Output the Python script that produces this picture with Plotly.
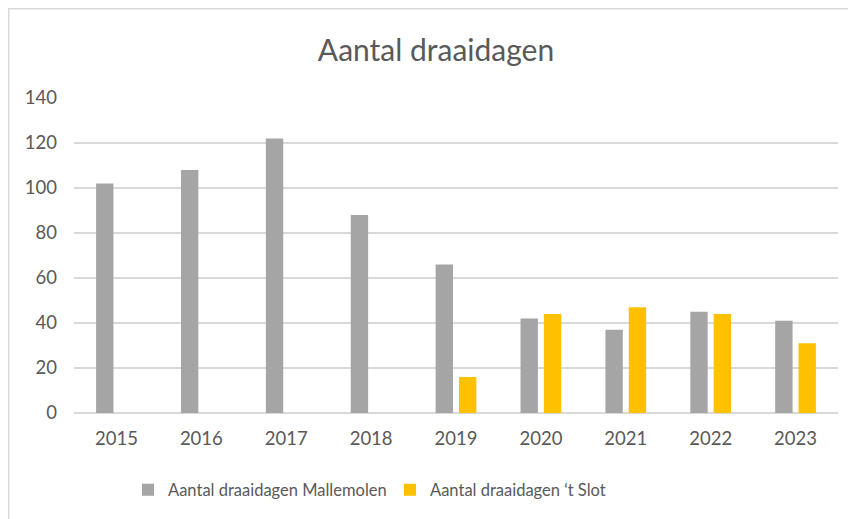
import plotly.graph_objects as go

years = ["2015", "2016", "2017", "2018", "2019", "2020", "2021", "2022", "2023"]
mallemolen = [102, 108, 122, 88, 66, 42, 37, 45, 41]
slot = [None, None, None, None, 16, 44, 47, 44, 31]
name_m = "Aantal draaidagen Mallemolen"
name_s = "Aantal draaidagen \u2018t Slot"
title = "Aantal draaidagen"
yticks = [0, 20, 40, 60, 80, 100, 120, 140]

# page is offset by the 8px body margin
OFF = 8
W, H = 856, 519
L, R, T, B = 74 - OFF, 18 + OFF, 98 - OFF, 106 + OFF
pw, ph = W - L - R, H - T - B

fig = go.Figure()
fig.add_trace(go.Bar(x=years, y=mallemolen, name=name_m, marker_color="#A5A5A5",
                     marker_line_width=0))
fig.add_trace(go.Bar(x=years, y=slot, name=name_s, marker_color="#FFC000",
                     marker_line_width=0))

font = "Lato"
fig.update_layout(
    width=W, height=H,
    margin=dict(l=L, r=R, t=T, b=B, autoexpand=False),
    paper_bgcolor="white", plot_bgcolor="white",
    barmode="group", bargap=0.45, bargroupgap=0.256,
    font=dict(family=font, color="#595959", size=18),
    title=dict(text=title, x=(436 - OFF) / W, xanchor="center", y=1 - (50 - OFF) / H,
               yanchor="middle", font=dict(family=font, size=30, color="#595959")),
    showlegend=True,
    legend=dict(orientation="h", x=(128 - OFF - L) / pw, xanchor="left",
                y=(0 - 77) / ph, yanchor="middle",
                font=dict(family=font, size=16.5, color="#595959"),
                itemwidth=30, entrywidth=217, traceorder="normal"),
    xaxis=dict(showgrid=False, showline=False, ticks="", tickfont=dict(size=18.5),
               ticklabelstandoff=12),
    yaxis=dict(range=[0, 140], tickvals=yticks, showgrid=True, gridcolor="#D9D9D9",
               gridwidth=1.5, zeroline=True, zerolinecolor="#D9D9D9", zerolinewidth=1.5,
               showline=False, ticks="", tickfont=dict(size=18.5), ticklabelstandoff=16),
)

# chart area border (top and left edges visible)
fig.add_shape(type="rect", xref="paper", yref="paper",
              x0=(0.75 - L) / pw, x1=(W + 5 - L) / pw,
              y0=(H - B - (H + 5)) / ph, y1=(H - B - 0.75) / ph,
              line=dict(color="#D9D9D9", width=1.5), fillcolor="rgba(0,0,0,0)", layer="below")

fig.write_html("out.html")
